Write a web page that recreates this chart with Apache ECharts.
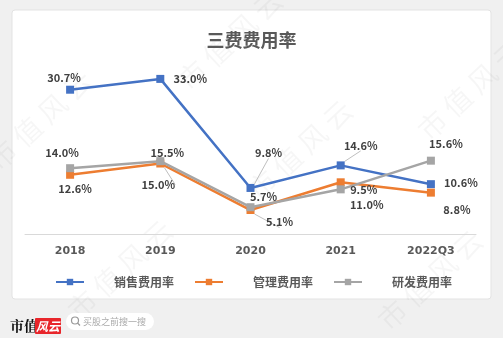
<!DOCTYPE html>
<html><head><meta charset="utf-8">
<script src="https://cdn.jsdelivr.net/npm/echarts@6/dist/echarts.min.js"></script>
<style>html,body{margin:0;padding:0;background:#fff;}#c{width:503px;height:338px;}</style>
</head><body><div id="c"></div>
<script>
const categories = ['2018', '2019', '2020', '2021', '2022Q3'];
const seriesNames = ['销售费用率', '管理费用率', '研发费用率'];
const salesRate = [30.7, 33.0, 9.8, 14.6, 10.6];
const adminRate = [12.6, 15.0, 5.1, 11.0, 8.8];
const rdRate = [14.0, 15.5, 5.7, 9.5, 15.6];
const titleText = '三费费用率';

// label placement (pixels relative to each point)
const salesOffsets = [[-6,-12],[30,0],[18,-35],[20,-20],[30,-1]];
const adminOffsets = [[5,14],[-2,21],[29,12],[26,23],[26,17]];
const rdOffsets = [[-8,-15],[7,-8],[13,-10],[23,0],[15,-17]];
const colors = ['#4472C4', '#ED7D31', '#A5A5A5'];

const chart = echarts.init(document.getElementById('c'), null, {renderer:'canvas'});
const labelFont = {fontFamily:'"Noto Sans CJK SC","DejaVu Sans",sans-serif', fontWeight:'bold', fontSize:11, color:'#404040'};

function build(vals, offs, leaders){
  return vals.map((v,i)=>{
    const o = {value:v, label:{offset:offs[i]}};
    if (leaders && leaders[i]) o.labelLine = {show:true};
    return o;
  });
}
function mk(name, vals, offs, idx, leaders){
  return {
    name, type:'line', data: build(vals, offs, leaders),
    symbol:'rect', symbolSize:8,
    lineStyle:{width:2.5, color:colors[idx]},
    itemStyle:{color:colors[idx]},
    label:{show:true, position:'inside', formatter:p=>p.value.toFixed(1)+'%', ...labelFont},
    labelLine:{show:false, lineStyle:{color:'#bfbfbf', width:1}},
    z: 3 + idx
  };
}

const wm = [];
const wmPos = [[230,40],[40,120],[300,150],[470,90],[120,270],[430,280]];
wmPos.forEach(p=>wm.push({type:'text', x:p[0], y:p[1], rotation:0.75, z:-5,
  style:{text:'市 值 风 云', fill:'rgba(0,0,0,0.035)', font:'28px "Noto Sans CJK SC"', align:'center', verticalAlign:'middle'}}));

chart.setOption({
  animation:false,
  backgroundColor:'#f0f0f0',
  title:{text:titleText, left:'center', top:26, textStyle:{fontFamily:'"Noto Sans CJK SC",sans-serif', fontSize:18, fontWeight:'bold', color:'#595959'}},
  grid:{left:25, right:27, top:69.5, bottom:104},
  xAxis:{type:'category', data:categories, boundaryGap:true,
    axisLine:{lineStyle:{color:'#d9d9d9', width:1}}, axisTick:{show:false},
    axisLabel:{margin:12, fontFamily:'"DejaVu Sans",sans-serif', fontWeight:'bold', fontSize:11, color:'#595959'}},
  yAxis:{type:'value', min:0, max:35, show:false, splitLine:{show:false}},
  legend:{data:seriesNames, left:50, top:271, itemWidth:28, itemHeight:8, itemGap:20,
    textStyle:{fontFamily:'"Noto Sans CJK SC",sans-serif', fontWeight:'bold', fontSize:12, color:'#595959', padding:[0,0,0,25], width:62}},
  graphic:[
    {type:'rect', shape:{x:12, y:10, width:479, height:289, r:3}, style:{fill:'#fff', stroke:'#e3e3e3', lineWidth:1}, z:-10},
    ...wm,
    {type:'text', x:10, y:326, style:{text:'市值', font:'bold 14px "Noto Serif CJK SC","Noto Sans CJK SC"', fill:'#111', verticalAlign:'middle'}},
    {type:'rect', shape:{x:35, y:318, width:26, height:16, r:1}, style:{fill:'#e8262b'}},
    {type:'text', x:48, y:326, style:{text:'风云', font:'italic bold 12px "Noto Sans CJK SC"', fill:'#fff', align:'center', verticalAlign:'middle'}},
    {type:'rect', shape:{x:66, y:313, width:88, height:17, r:8.5}, style:{fill:'#fff'}},
    {type:'circle', shape:{cx:75, cy:320.5, r:3.5}, style:{fill:'none', stroke:'#999', lineWidth:1.2}},
    {type:'line', shape:{x1:77.5, y1:323, x2:80, y2:325.5}, style:{stroke:'#999', lineWidth:1.2}},
    {type:'text', x:83, y:322, style:{text:'买股之前搜一搜', font:'9px "Noto Sans CJK SC"', fill:'#aaa', verticalAlign:'middle'}}
  ],
  series:[
    mk(seriesNames[0], salesRate, salesOffsets, 0, [0,0,1,1,0]),
    mk(seriesNames[1], adminRate, adminOffsets, 1, [0,1,1,0,0]),
    mk(seriesNames[2], rdRate, rdOffsets, 2, null)
  ]
});
</script></body></html>
